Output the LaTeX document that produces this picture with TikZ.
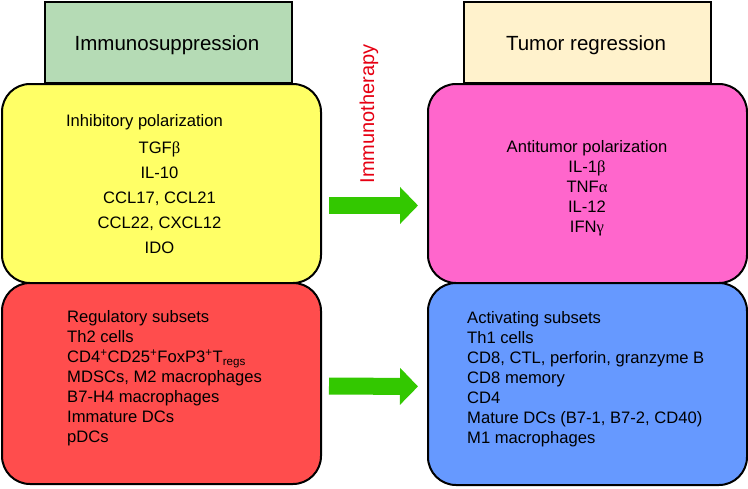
\documentclass[tikz,border=0pt]{standalone}
\usepackage{fontspec}
\setmainfont{Liberation Sans}
\newfontfamily\gk{Liberation Serif}
\usetikzlibrary{arrows.meta}
\definecolor{hgreen}{RGB}{181,219,181}
\definecolor{hcream}{RGB}{255,242,204}
\definecolor{cyel}{RGB}{255,255,102}
\definecolor{cpink}{RGB}{255,102,204}
\definecolor{cred}{RGB}{255,77,77}
\definecolor{cblue}{RGB}{102,153,255}
\definecolor{agreen}{RGB}{51,200,0}
\definecolor{ired}{RGB}{230,0,18}
\begin{document}
\begin{tikzpicture}[x=1pt,y=-1pt,
 hdr/.style={draw=black, line width=1.5pt, minimum width=247pt, minimum height=81pt, inner sep=0pt},
 hdrtext/.style={font=\fontsize{20.5}{24}\selectfont, inner sep=0pt},
 rbox/.style={draw=black, line width=2pt, rounded corners=28pt, minimum width=319pt, inner sep=0pt},
 body/.style={font=\fontsize{16.6}{20}\selectfont, inner sep=0pt},
 bigarrow/.style={color=agreen, line width=17pt, -{Triangle[length=18pt,width=36pt]}, shorten <=7pt, shorten >=9pt}]
\useasboundingbox (0,0) rectangle (748,488);
% headers
\node[hdr, fill=hgreen] (h1) at (168.5,42.5) {};
\node[hdr, fill=hcream] (h2) at (587.5,42.5) {};
\node[hdrtext] (h1t) at (167,45.5) {Immunosuppression};
\node[hdrtext] (h2t) at (586,45.5) {Tumor regression};
% rounded boxes
\node[rbox, fill=cyel, minimum height=199pt] (yb) at (161.5,183.5) {};
\node[rbox, fill=cred, minimum height=201pt] (rb) at (161.5,383.5) {};
\node[rbox, fill=cpink, minimum height=199pt] (pb) at (587.5,183.5) {};
\node[rbox, fill=cblue, minimum height=202pt] (bb) at (587.5,384) {};
% yellow text
\node[body] (yt) at (144.5,122) {Inhibitory polarization};
\node[body, align=center, font=\fontsize{16.6}{25}\selectfont] (yl) at (159.5,197.5)
 {TGF{\gk β}\\IL-10\\CCL17, CCL21\\CCL22, CXCL12\\IDO};
% pink text
\node[body, align=center] (pt) at (587,188)
 {Antitumor polarization\\IL-1{\gk β}\\TNF{\gk α}\\IL-12\\IFN{\gk γ}};
% red text
\node[body, align=left, anchor=west] (rt) at (67,378.5)
 {Regulatory subsets\\Th2 cells\\CD4\textsuperscript{+}CD25\textsuperscript{+}FoxP3\textsuperscript{+}T\textsubscript{regs}\\MDSCs, M2 macrophages\\B7-H4 macrophages\\Immature DCs\\pDCs};
% blue text
\node[body, align=left, anchor=west] (bt) at (467,379.5)
 {Activating subsets\\Th1 cells\\CD8, CTL, perforin, granzyme B\\CD8 memory\\CD4\\Mature DCs (B7-1, B7-2, CD40)\\M1 macrophages};
% arrows
\draw[bigarrow] ([yshift=-22pt]yb.east) -- ([yshift=-22pt]pb.west);
\draw[bigarrow] ([yshift=-2.5pt]rb.east) -- ([yshift=-2.5pt]bb.west);
\node[rotate=90, text=ired, font=\fontsize{20}{23}\selectfont, inner sep=0pt] (it) at (369,114) {Immunotherapy};
\end{tikzpicture}
\end{document}
